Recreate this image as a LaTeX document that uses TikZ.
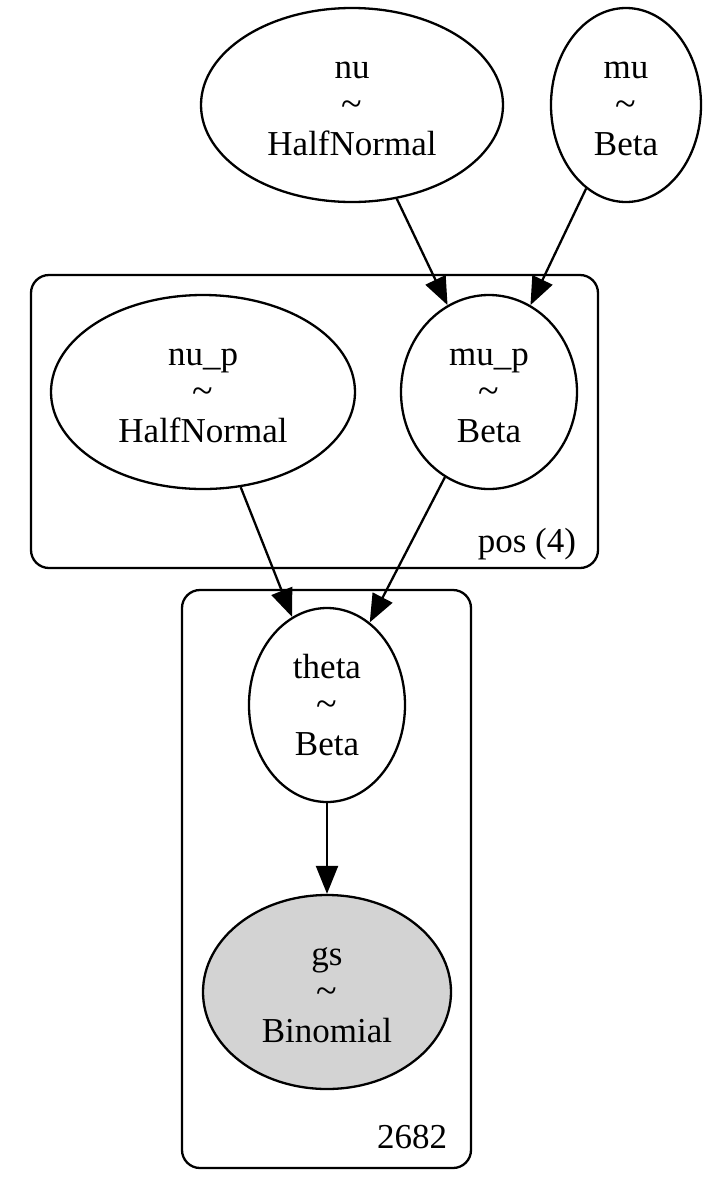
\documentclass[tikz,border=0pt]{standalone}
\usepackage{fontspec}
\setmainfont{Liberation Serif}
\usepackage{tikz}
\usetikzlibrary{shapes.geometric,arrows.meta,calc,positioning}
\definecolor{obsgray}{HTML}{D3D3D3}
\newcommand{\rvtext}[2]{\rule{0pt}{17.5pt}#1\\{\fontsize{19}{19}\selectfont\textasciitilde}\\#2\strut}
\tikzset{
	model graph/.style={
		x=0.5pt, y=-0.5pt,
		line width=1.15pt,
		font=\fontsize{17.5}{19.25}\selectfont,
		rv/.style 2 args={ellipse, draw, inner sep=0pt, align=center,
			minimum width=##1, minimum height=##2},
		obs/.style={fill=obsgray},
		plate/.style={draw, rounded corners=9pt, inner sep=0pt},
		plate name/.style={anchor=base east, inner sep=0pt},
		dep/.style={-{Triangle[length=14pt,width=11pt]}}
		}
}

\begin{document}
\begin{tikzpicture}[model graph]
  \useasboundingbox (0,0) rectangle (711,1200);
  % plates
  \node[plate, minimum width=283.5pt, minimum height=146.5pt] (pos) at (314.5,421.5) {};
  \node[plate, minimum width=144.5pt, minimum height=289pt] (obsplate) at (326.5,879) {};
  \node[plate name] (pos_name) at ($(pos.south east)+(-11pt,8.5pt)$) {pos (4)};
  \node[plate name] (obsplate_name) at ($(obsplate.south east)+(-12pt,10.5pt)$) {2682};
  % random variables
  \node[rv={151pt}{97pt}] (nu) at (352,105) {\rvtext{nu}{HalfNormal}};
  \node[rv={75pt}{97pt}] (mu) at (626,105) {\rvtext{mu}{Beta}};
  \node[rv={152pt}{97pt}] (nu_p) at (203,392) {\rvtext{nu\_p}{HalfNormal}};
  \node[rv={88pt}{97pt}] (mu_p) at (489,392) {\rvtext{mu\_p}{Beta}};
  \node[rv={78pt}{97pt}] (theta) at (327,705) {\rvtext{theta}{Beta}};
  \node[rv={124pt}{97pt}, obs] (gs) at (327,992) {\rvtext{gs}{Binomial}};
  % dependencies
  \draw[dep] (nu) -- (mu_p);
  \draw[dep] (mu) -- (mu_p);
  \draw[dep] (nu_p) -- (theta);
  \draw[dep] (mu_p) -- (theta);
  \draw[dep] (theta) -- (gs);
\end{tikzpicture}
\end{document}
